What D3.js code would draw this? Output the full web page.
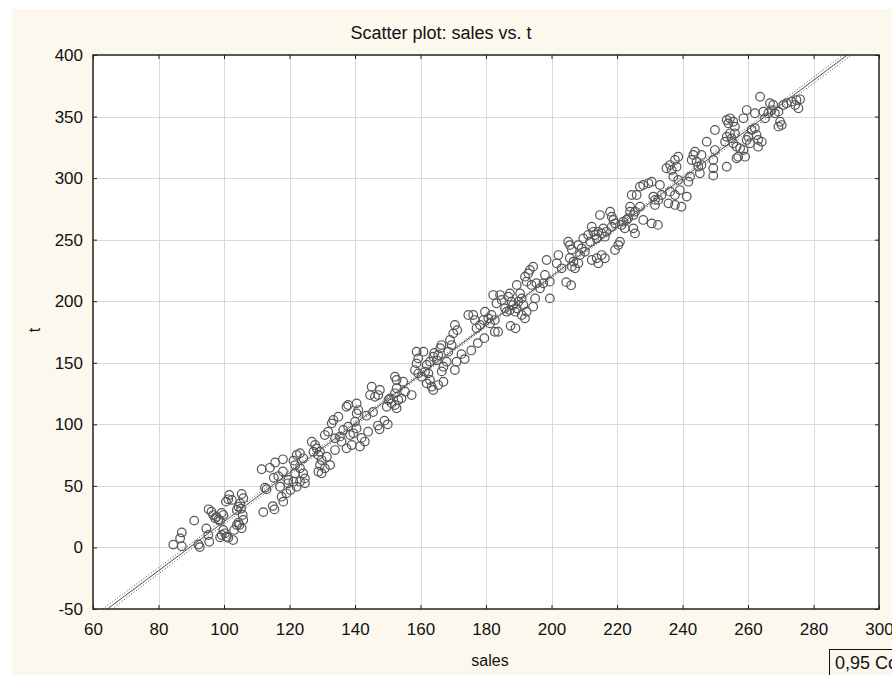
<!DOCTYPE html>
<html><head><meta charset="utf-8">
<script src="https://cdn.jsdelivr.net/npm/d3@7/dist/d3.min.js"></script>
<style>body{margin:0;background:#fff}svg{display:block}</style>
</head><body>
<svg id="chart" width="892" height="675"></svg>
<script>
// ---- data ----
const sales = [
84.5,86.6,87.1,87.1,90.9,92.2,92.6,94.6,95.2,95.5,95.3,96.2,96.7,97.3,97.7,98.3,98.8,99.3,99.8,98.8,99.3,99.8,100.3,100.8,101.3,102.8,100.6,101.3,101.6,102.4,103.9,104.4,104.9,105.4,104.7,105.4,105.9,105.7,103.1,103.9,104.4,105.9,105.2,
111.5,113.0,114.0,115.6,116.6,118.0,118.0,115.2,114.9,115.4,112.0,112.5,117.1,117.6,118.1,119.1,119.6,120.3,119.6,121.2,122.2,123.2,124.2,121.7,123.2,124.2,124.7,123.2,124.7,121.2,122.2,121.7,
126.8,127.8,128.3,127.3,128.8,129.3,129.8,129.3,129.8,128.8,130.8,132.4,131.4,130.8,131.8,132.9,133.4,134.9,133.9,135.4,135.9,136.4,137.9,138.5,139.5,139.0,137.4,133.9,137.4,137.9,140.5,141.0,140.5,140.5,140.0,
145.1,144.6,146.1,147.6,147.1,150.2,150.7,151.2,149.7,152.2,152.7,153.2,154.2,152.2,152.7,152.2,152.7,154.7,157.3,155.3,143.5,145.5,147.0,147.5,144.0,142.0,149.0,150.0,141.5,143.0,
158.8,159.3,158.8,160.9,158.3,159.3,160.4,161.4,162.4,162.9,161.9,163.4,163.9,165.4,167.0,161.9,162.9,163.9,164.2,165.4,166.0,166.4,167.0,168.0,168.5,169.5,169.0,170.0,170.5,171.0,170.5,165.0,166.5,
171.2,174.6,176.1,176.6,177.1,178.2,179.2,179.7,180.7,181.2,182.7,181.7,182.7,183.7,172.5,173.5,175.5,177.5,179.5,
182.2,184.3,184.8,183.2,186.8,187.3,187.8,188.3,185.8,186.3,187.3,188.9,189.4,189.4,190.4,189.9,190.9,191.4,190.9,191.9,192.4,194.4,195.0,192.4,191.9,192.9,193.4,194.4,193.9,195.4,196.5,198.0,197.5,199.5,199.5,198.5,187.5,189.0,
202.1,201.6,203.1,205.1,205.6,206.2,205.6,206.7,206.2,207.2,208.2,208.2,209.2,208.7,210.2,209.7,211.2,211.8,212.3,212.8,213.3,214.3,213.8,215.3,215.8,216.3,216.8,214.8,217.9,218.4,218.9,218.4,219.4,212.3,213.8,214.3,215.3,216.3,219.4,220.4,220.9,221.4,221.9,222.9,222.4,223.4,224.0,224.0,225.0,225.5,225.5,225.0,224.5,226.0,227.0,228.0,229.6,230.6,231.1,231.6,231.6,228.0,230.6,227.0,204.5,206.0,
233.1,233.6,232.6,235.1,236.2,236.7,237.7,238.7,238.2,237.2,238.7,239.2,237.7,236.2,235.7,237.7,239.7,241.3,241.8,242.3,242.8,243.3,243.8,244.3,244.8,245.8,245.8,245.3,247.4,249.4,249.4,249.9,249.4,249.9,232.5,
253.5,253.0,253.5,254.5,255.0,256.0,255.5,256.5,254.0,253.5,254.5,255.5,256.0,257.6,258.6,257.0,259.1,256.5,259.6,260.1,260.6,261.1,262.1,262.6,263.1,264.2,263.1,259.6,262.1,258.6,263.7,264.7,265.2,266.2,266.7,267.7,267.2,268.2,269.3,269.8,270.3,269.3,270.8,271.8,273.3,274.8,275.9,275.4,274.4
];
const tValues = [
2.3,7.4,12.2,1.0,21.8,2.4,0.3,15.4,10.1,4.6,31.0,29.0,26.3,23.7,24.9,22.8,21.6,28.1,26.3,8.2,10.1,14.2,11.5,8.7,7.9,6.0,37.2,39.1,42.6,38.6,30.4,33.1,35.8,43.4,18.3,15.6,22.3,26.4,14.2,18.3,20.1,40.0,31.5,
63.5,47.3,64.7,69.0,57.9,71.6,61.7,56.6,33.6,30.9,28.7,48.5,49.3,41.2,37.2,44.0,52.1,46.7,54.8,70.5,75.1,76.5,72.4,66.9,64.3,60.2,56.1,53.4,52.1,53.4,49.3,60.2,
85.9,83.2,80.5,77.8,75.1,77.8,71.0,66.9,60.2,61.5,64.3,66.9,73.7,91.3,94.0,100.8,103.5,106.2,88.6,90.0,85.9,95.4,98.1,91.3,92.7,83.2,80.5,79.1,114.3,115.7,117.0,111.6,108.9,96.7,102.1,
130.6,123.8,122.4,127.9,123.8,119.8,121.1,117.0,114.3,115.7,113.0,119.8,121.1,125.2,129.3,138.7,136.0,134.6,123.8,126.5,107.0,110.0,99.0,96.0,94.0,89.0,103.0,100.0,82.0,86.0,
159.0,153.6,149.5,159.0,144.1,141.4,138.7,142.7,141.4,136.0,133.3,130.6,127.9,131.9,134.6,148.2,150.9,154.9,158.0,156.3,161.8,164.4,146.8,150.9,159.0,164.4,168.5,173.9,180.7,150.9,144.1,152.0,143.0,
176.5,188.8,188.8,184.7,178.0,180.7,184.7,191.5,186.1,182.0,184.7,188.8,175.2,175.2,157.0,153.0,160.0,166.0,170.0,
205.0,205.0,201.0,198.3,203.7,206.4,199.6,196.9,194.2,191.5,192.9,191.5,194.2,213.2,206.4,199.6,202.3,196.9,188.8,186.1,191.5,195.6,202.3,215.9,219.9,222.6,225.4,228.1,213.2,214.6,210.5,221.3,214.6,215.9,202.3,233.5,180.0,178.0,
237.5,230.8,226.7,248.3,245.6,242.0,235.1,232.1,228.1,226.7,230.8,245.6,242.9,237.5,240.2,251.0,253.8,248.3,260.5,256.4,253.8,256.4,251.0,255.1,259.2,252.4,256.4,270.0,272.7,268.7,266.0,260.5,263.2,233.5,234.9,230.8,237.5,234.9,241.6,245.6,248.3,261.9,264.6,266.0,259.2,267.3,276.8,272.7,270.0,272.7,255.1,259.2,286.3,286.3,293.1,294.4,295.8,297.1,285.0,282.3,278.2,266.0,263.2,276.8,215.5,213.0,
294.4,286.3,282.3,308.0,310.6,306.6,314.7,317.4,309.3,301.2,298.5,290.3,286.3,289.0,279.5,278.2,276.8,285.0,297.1,301.2,314.7,318.8,321.5,313.3,309.3,318.8,310.6,303.9,329.6,314.7,308.0,322.8,302.0,339.1,262.0,
309.3,329.6,333.6,336.4,332.3,336.4,328.3,325.5,344.5,347.2,348.6,345.8,341.8,324.2,322.8,317.4,317.4,316.1,331.0,333.6,328.3,339.1,340.5,335.0,331.0,329.6,325.5,355.3,352.7,348.6,366.1,354.0,348.6,352.7,360.8,359.4,355.3,352.7,354.0,345.8,343.1,341.8,359.4,360.8,362.1,363.4,364.0,356.7,359.4
];
const xTicks = [60,80,100,120,140,160,180,200,220,240,260,280,300];
const yTicks = [-50,0,50,100,150,200,250,300,350,400];
const titleText = "Scatter plot: sales vs. t";
const xLabel = "sales", yLabel = "t";
const legendText = "0,95 Conf.Int.";

// ---- layout ----
const W = 892, H = 675;
const plot = {l: 93, r: 879, t: 55, b: 609};
const font = "'Liberation Sans', Arial, sans-serif";
const svg = d3.select("#chart");

svg.append("rect").attr("x", 12).attr("y", 9).attr("width", W - 12).attr("height", H - 9).attr("fill", "#fdf8ed");

const x = d3.scaleLinear().domain([60, 300]).range([plot.l, plot.r]);
const y = d3.scaleLinear().domain([-50, 400]).range([plot.b, plot.t]);

svg.append("rect").attr("x", plot.l).attr("y", plot.t).attr("width", plot.r - plot.l).attr("height", plot.b - plot.t).attr("fill", "#fff");

// grid
const grid = svg.append("g").attr("stroke", "#d9d9d9").attr("stroke-width", 1);
grid.selectAll("line.v").data(xTicks.slice(1, -1)).join("line")
  .attr("x1", d => Math.round(x(d)) + 0.5).attr("x2", d => Math.round(x(d)) + 0.5)
  .attr("y1", plot.t).attr("y2", plot.b);
grid.selectAll("line.h").data(yTicks.slice(1, -1)).join("line")
  .attr("y1", d => Math.round(y(d)) + 0.5).attr("y2", d => Math.round(y(d)) + 0.5)
  .attr("x1", plot.l).attr("x2", plot.r);

svg.append("defs").append("clipPath").attr("id", "clip")
  .append("rect").attr("x", plot.l).attr("y", plot.t).attr("width", plot.r - plot.l).attr("height", plot.b - plot.t);

// regression + confidence band, computed from the data
const pts = sales.map((s, i) => [s, tValues[i]]);
const n = pts.length;
const mx = d3.mean(sales), my = d3.mean(tValues);
const sxx = d3.sum(sales, s => (s - mx) ** 2);
const sxy = d3.sum(pts, p => (p[0] - mx) * (p[1] - my));
const b = sxy / sxx, a = my - b * mx;
const sse = d3.sum(pts, p => (p[1] - a - b * p[0]) ** 2);
const se = Math.sqrt(sse / (n - 2));
const tcrit = 1.966;
const xs = d3.range(60, 300.01, 1);
const band = s => tcrit * se * Math.sqrt(1 / n + (s - mx) ** 2 / sxx);

const lg = svg.append("g").attr("clip-path", "url(#clip)");
const line = d3.line().x(d => x(d[0])).y(d => y(d[1]));
lg.append("path").datum(xs.map(s => [s, a + b * s])).attr("d", line)
  .attr("fill", "none").attr("stroke", "#444").attr("stroke-width", 1);
[-1, 1].forEach(sg => {
  lg.append("path").datum(xs.map(s => [s, a + b * s + sg * band(s)])).attr("d", line)
    .attr("fill", "none").attr("stroke", "#444").attr("stroke-width", 1).attr("stroke-dasharray", "1,2");
});

// points
svg.append("g").selectAll("circle").data(pts).join("circle")
  .attr("cx", d => x(d[0])).attr("cy", d => y(d[1])).attr("r", 4.3)
  .attr("fill", "none").attr("stroke", "#555").attr("stroke-width", 1.2);

// frame
svg.append("rect").attr("x", plot.l).attr("y", plot.t).attr("width", plot.r - plot.l).attr("height", plot.b - plot.t)
  .attr("fill", "none").attr("stroke", "#222").attr("stroke-width", 1.5);

// axes (inward ticks)
const fmt = d => String(d);
const axB = svg.append("g").attr("transform", `translate(0,${plot.b})`)
  .call(d3.axisBottom(x).tickValues(xTicks).tickFormat(fmt).tickSize(-4).tickSizeOuter(0).tickPadding(14));
const axL = svg.append("g").attr("transform", `translate(${plot.l},0)`)
  .call(d3.axisLeft(y).tickValues(yTicks).tickFormat(fmt).tickSize(-4).tickSizeOuter(0).tickPadding(10));
const axT = svg.append("g").attr("transform", `translate(0,${plot.t})`)
  .call(d3.axisTop(x).tickValues(xTicks).tickSize(-4).tickSizeOuter(0).tickFormat(""));
const axR = svg.append("g").attr("transform", `translate(${plot.r},0)`)
  .call(d3.axisRight(y).tickValues(yTicks).tickSize(-4).tickSizeOuter(0).tickFormat(""));
[axB, axL, axT, axR].forEach(g => {
  g.select(".domain").remove();
  g.selectAll(".tick line").attr("stroke", "#222");
  g.selectAll("text").attr("font-family", font).attr("font-size", 17).attr("fill", "#111");
});

// titles
svg.append("text").attr("x", 441).attr("y", 39).attr("text-anchor", "middle")
  .attr("font-family", font).attr("font-size", 18).attr("fill", "#111").text(titleText);
svg.append("text").attr("x", 490).attr("y", 666).attr("text-anchor", "middle")
  .attr("font-family", font).attr("font-size", 16).attr("fill", "#111").text(xLabel);
svg.append("text").attr("transform", "translate(40,330) rotate(-90)").attr("text-anchor", "middle")
  .attr("font-family", font).attr("font-size", 16).attr("fill", "#111").text(yLabel);

// legend box
svg.append("rect").attr("x", 829.5).attr("y", 649.5).attr("width", 120).attr("height", 40)
  .attr("fill", "none").attr("stroke", "#111").attr("stroke-width", 1);
svg.append("text").attr("x", 835).attr("y", 669).attr("font-family", font).attr("font-size", 18)
  .attr("fill", "#111").text(legendText);
</script>
</body></html>
